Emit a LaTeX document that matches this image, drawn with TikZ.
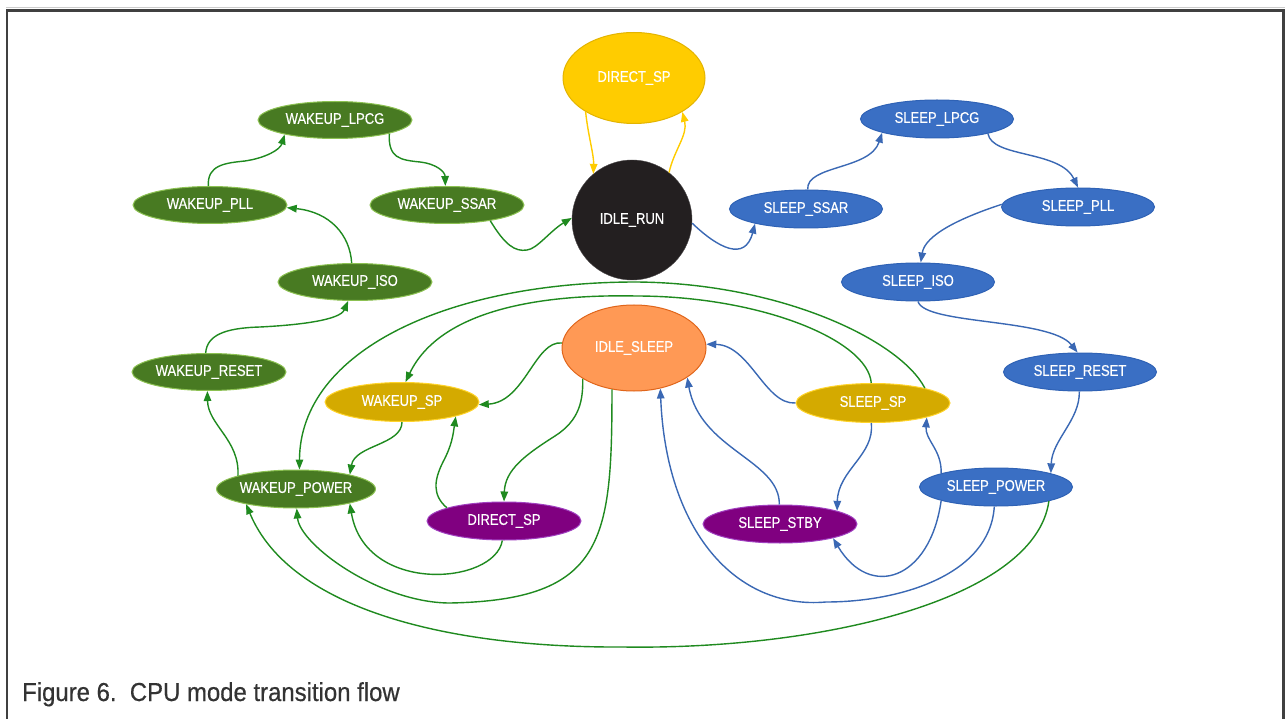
\documentclass[tikz,border=0pt]{standalone}
\usepackage{fontspec}
\setmainfont{Liberation Sans}
\newfontfamily\nodefont[FakeStretch=0.84,FakeBold=0.4]{Liberation Sans}
\newfontfamily\capfont[FakeStretch=0.92,FakeBold=0.5]{Liberation Sans}
\usetikzlibrary{shapes.geometric,arrows.meta}
\definecolor{wgreen}{HTML}{487A22}
\definecolor{wgreenb}{HTML}{8CC152}
\definecolor{sblue}{HTML}{3A6FC4}
\definecolor{sblueb}{HTML}{2F62B5}
\definecolor{ytop}{HTML}{FFCC00}
\definecolor{ytopb}{HTML}{E3B400}
\definecolor{ydark}{HTML}{D4AA00}
\definecolor{ydarkb}{HTML}{FFD42A}
\definecolor{purp}{HTML}{800080}
\definecolor{purpb}{HTML}{A040C0}
\definecolor{orng}{HTML}{FF9955}
\definecolor{orngb}{HTML}{E0651A}
\definecolor{runblk}{HTML}{231F20}
\definecolor{gedge}{HTML}{1F8A1F}
\definecolor{bedge}{HTML}{3A68B4}
\definecolor{yedge}{HTML}{FFCC00}
\definecolor{framec}{HTML}{404040}
\definecolor{capc}{HTML}{333333}
\begin{document}
\begin{tikzpicture}[x=1pt,y=-1pt,
  st/.style={ellipse, inner sep=0pt, font=\nodefont\fontsize{15.5}{17}\selectfont, text=white, line width=1pt},
  gst/.style={st, fill=wgreen, draw=wgreenb, minimum width=154pt, minimum height=37pt},
  bst/.style={st, fill=sblue, draw=sblueb, minimum width=153pt, minimum height=38pt},
  yst/.style={st, fill=ydark, draw=ydarkb, minimum width=154pt, minimum height=39pt},
  pst/.style={st, fill=purp, draw=purpb, minimum width=154pt, minimum height=38pt},
  tip/.style={-{Triangle[length=10pt,width=7.5pt]}},
  ge/.style={draw=gedge, line width=1.4pt, tip},
  be/.style={draw=bedge, line width=1.4pt, tip},
  ye/.style={draw=yedge, line width=1.4pt, tip},
]
\useasboundingbox (0,0) rectangle (1285,719);
\fill[white] (0,0) rectangle (1285,719);
% frame
\draw[gray!40, line width=1pt] (6,8) -- (1285,8);
\draw[framec, line width=2.6pt] (7,719) -- (7,10.5) -- (1283.5,10.5) -- (1283.5,719);

% nodes
\node[st, fill=ytop, draw=ytopb, minimum width=142pt, minimum height=91pt] (dspt) at (634,78) {DIRECT\_SP};
\node[circle, inner sep=0pt, minimum size=120pt, fill=runblk, draw=runblk!80, text=white, font=\nodefont\fontsize{15.5}{17}\selectfont] (run) at (632,220) {IDLE\_RUN};
\node[gst] (wlpcg) at (335,120) {WAKEUP\_LPCG};
\node[gst] (wpll) at (210,205) {WAKEUP\_PLL};
\node[gst] (wssar) at (447,205) {WAKEUP\_SSAR};
\node[gst] (wiso) at (355,282) {WAKEUP\_ISO};
\node[gst] (wreset) at (209,372) {WAKEUP\_RESET};
\node[yst] (wsp) at (402,402) {WAKEUP\_SP};
\node[gst, minimum height=38pt] (wpower) at (296,489) {WAKEUP\_POWER};
\node[pst] (dsp) at (504,521) {DIRECT\_SP};
\node[st, fill=orng, draw=orngb, minimum width=144pt, minimum height=86pt] (isleep) at (634,348) {IDLE\_SLEEP};
\node[bst] (slpcg) at (937,119) {SLEEP\_LPCG};
\node[bst] (sssar) at (806,209) {SLEEP\_SSAR};
\node[bst] (spll) at (1078,207) {SLEEP\_PLL};
\node[bst] (siso) at (918,282) {SLEEP\_ISO};
\node[bst] (sreset) at (1080,372) {SLEEP\_RESET};
\node[yst] (ssp) at (873,403) {SLEEP\_SP};
\node[pst] (sstby) at (780,524) {SLEEP\_STBY};
\node[bst] (spower) at (996,487) {SLEEP\_POWER};

% yellow edges
\draw[ye] (dspt.-145) .. controls (588,135) and (594,155) .. (run.130);
\draw[ye] (run.52) .. controls (674,150) and (688,135) .. (dspt.-35);

% green edges
\draw[ge] (wlpcg.-14) .. controls (388,158) and (400,160) .. (420,162) .. controls (437,164) and (445,172) .. (wssar.95);
\draw[ge] (wpll.95) .. controls (207,165) and (225,163) .. (245,161) .. controls (265,158) and (280,150) .. (wlpcg.-164);
\draw[ge] (wiso.100) .. controls (350,235) and (330,212) .. (wpll.-2);
\draw[ge] (wssar.-20) .. controls (505,245) and (515,252) .. (527,250) .. controls (537,249) and (550,231) .. (run.178);
\draw[ge] (wreset.100) .. controls (207,335) and (225,328) .. (260,327) .. controls (300,325) and (340,320) .. (wiso.-110);
\draw[ge] (wpower.167) .. controls (240,440) and (208,425) .. (wreset.-95);
\draw[ge] (wsp.-90) .. controls (402,445) and (355,445) .. (wpower.15);
\draw[ge] (dsp.167) .. controls (432,495) and (434,480) .. (443,462) .. controls (452,445) and (453,435) .. (wsp.-15);
\draw[ge] (isleep.176) .. controls (535,340) and (525,402) .. (wsp.-2);
\draw[ge] (isleep.-149) .. controls (583,400) and (580,420) .. (555,436) .. controls (525,455) and (505,470) .. (dsp.90);
\draw[ge] (isleep.-118) .. controls (612,540) and (605,600) .. (450,603) .. controls (380,603) and (300,545) .. (wpower.-88);
\draw[ge] (dsp.-95) .. controls (495,585) and (365,595) .. (wpower.-15);
\draw[ge] (ssp.95) .. controls (868,340) and (760,296) .. (636,296) .. controls (540,294) and (440,310) .. (wsp.80);
\draw[ge] (ssp.16) .. controls (900,340) and (780,283) .. (636,282) .. controls (450,282) and (300,350) .. (wpower.80);
\draw[ge] (spower.-15) .. controls (1035,600) and (820,650) .. (623,647) .. controls (450,648) and (290,610) .. (wpower.-163);

% blue edges
\draw[be] (run.-3) .. controls (718,248) and (745,262) .. (sssar.-164);
\draw[be] (sssar.85) .. controls (806,165) and (870,170) .. (slpcg.-166);
\draw[be] (slpcg.-16) .. controls (992,158) and (1060,150) .. (spll.90);
\draw[be] (spll.178) .. controls (960,218) and (925,235) .. (siso.82);
\draw[be] (siso.-90) .. controls (925,325) and (1050,318) .. (sreset.97);
\draw[be] (sreset.-92) .. controls (1080,420) and (1052,440) .. (spower.14);
\draw[be] (ssp.180) .. controls (765,405) and (750,345) .. (isleep.3);
\draw[be] (sstby.92) .. controls (780,460) and (700,450) .. (isleep.-29);
\draw[be] (ssp.-95) .. controls (875,455) and (838,470) .. (sstby.13);
\draw[be] (spower.166) .. controls (942,450) and (925,440) .. (ssp.-15);
\draw[be] (spower.-166) .. controls (930,580) and (870,600) .. (sstby.-15);
\draw[be] (spower.-95) .. controls (990,575) and (900,602) .. (826,602) .. controls (735,610) and (666,530) .. (isleep.-57);

% caption
\node[anchor=base west, inner sep=0pt, text=capc, font=\capfont\fontsize{26}{30}\selectfont] (cap) at (22,701) {Figure 6.\ \ CPU mode transition flow};
\end{tikzpicture}
\end{document}
